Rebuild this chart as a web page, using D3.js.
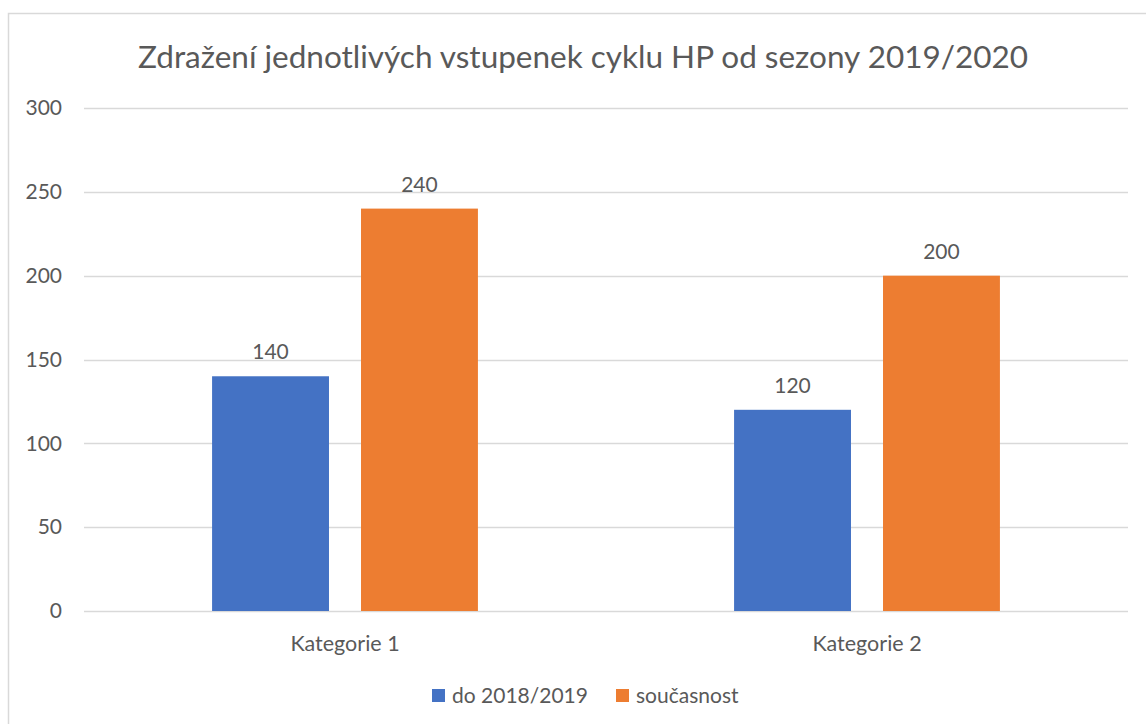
<!DOCTYPE html>
<html>
<head>
<meta charset="utf-8">
<script src="https://cdn.jsdelivr.net/npm/d3@7"></script>
<style>
  body { margin: 0; background: #fff; }
  text { font-family: Lato, "Open Sans", sans-serif; fill: #595959; }
</style>
</head>
<body>
<div id="chart"></div>
<script>
const title = 'Zdražení jednotlivých vstupenek cyklu HP od sezony 2019/2020'
const categories = ['Kategorie 1', 'Kategorie 2']
const seriesNames = ['do 2018/2019', 'současnost']
const before = [140, 120]
const now = [240, 200]
const yTicks = [0, 50, 100, 150, 200, 250, 300]
const colors = ['#4472C4', '#ED7D31']

const width = 1146
const height = 724
const margin = { top: 108, right: 18, bottom: 113, left: 84 }

const svg = d3.select('#chart')
  .append('svg')
  .attr('width', width)
  .attr('height', height)

svg.append('rect')
  .attr('x', 8.5)
  .attr('y', 13.5)
  .attr('width', 1160)
  .attr('height', 740)
  .attr('fill', 'none')
  .attr('stroke', '#D9D9D9')
  .attr('stroke-width', 1.5)

svg.append('text')
  .attr('x', 583)
  .attr('y', 68)
  .attr('text-anchor', 'middle')
  .attr('font-size', 31.5)
  .text(title)

const y = d3.scaleLinear()
  .domain([0, 300])
  .range([height - margin.bottom, margin.top])

const x0 = d3.scaleBand()
  .domain(categories)
  .range([margin.left, width - margin.right])
  .padding(0)

const x1 = d3.scaleBand()
  .domain(seriesNames)
  .range([0, x0.bandwidth()])
  .paddingInner(0.215)
  .paddingOuter(0.86)

// gridlines
svg.append('g')
  .selectAll('line')
  .data(yTicks)
  .join('line')
  .attr('x1', margin.left)
  .attr('x2', width - margin.right)
  .attr('y1', d => Math.round(y(d)) + 0.5)
  .attr('y2', d => Math.round(y(d)) + 0.5)
  .attr('stroke', '#D9D9D9')
  .attr('stroke-width', 1.5)

const yAxis = d3.axisLeft(y)
  .tickValues(yTicks)
  .tickSize(0)
  .tickPadding(22)

svg.append('g')
  .attr('transform', `translate(${margin.left},0)`)
  .call(yAxis)
  .call(g => g.select('.domain').remove())
  .call(g => g.selectAll('text')
    .attr('font-size', 21)
    .attr('fill', '#595959')
    .attr('font-family', 'Lato, sans-serif'))

const rows = categories.map((c, i) => ({ cat: c, values: [before[i], now[i]] }))

const groups = svg.append('g')
  .selectAll('g')
  .data(rows)
  .join('g')
  .attr('transform', d => `translate(${x0(d.cat)},0)`)

groups.selectAll('rect')
  .data(d => d.values.map((v, j) => ({ name: seriesNames[j], value: v, color: colors[j] })))
  .join('rect')
  .attr('x', d => x1(d.name))
  .attr('width', x1.bandwidth())
  .attr('y', d => y(d.value))
  .attr('height', d => y(0) - y(d.value))
  .attr('fill', d => d.color)

groups.selectAll('.label')
  .data(d => d.values.map((v, j) => ({ name: seriesNames[j], value: v })))
  .join('text')
  .attr('class', 'label')
  .attr('x', d => x1(d.name) + x1.bandwidth() / 2)
  .attr('y', d => y(d.value) - 17)
  .attr('text-anchor', 'middle')
  .attr('font-size', 21)
  .text(d => d.value)

const xAxis = d3.axisBottom(x0).tickSize(0).tickPadding(25)
svg.append('g')
  .attr('transform', `translate(0,${y(0)})`)
  .call(xAxis)
  .call(g => g.select('.domain').remove())
  .call(g => g.selectAll('text')
    .attr('font-size', 21.5)
    .attr('fill', '#595959')
    .attr('font-family', 'Lato, sans-serif'))

// legend
const legendX = [432, 616]
const legend = svg.append('g')
  .selectAll('g')
  .data(seriesNames)
  .join('g')
  .attr('transform', (d, i) => `translate(${legendX[i]},689)`)

legend.append('rect')
  .attr('width', 13)
  .attr('height', 13)
  .attr('fill', (d, i) => colors[i])

legend.append('text')
  .attr('x', 20)
  .attr('y', 14)
  .attr('font-size', 21)
  .text(d => d)
</script>
</body>
</html>
